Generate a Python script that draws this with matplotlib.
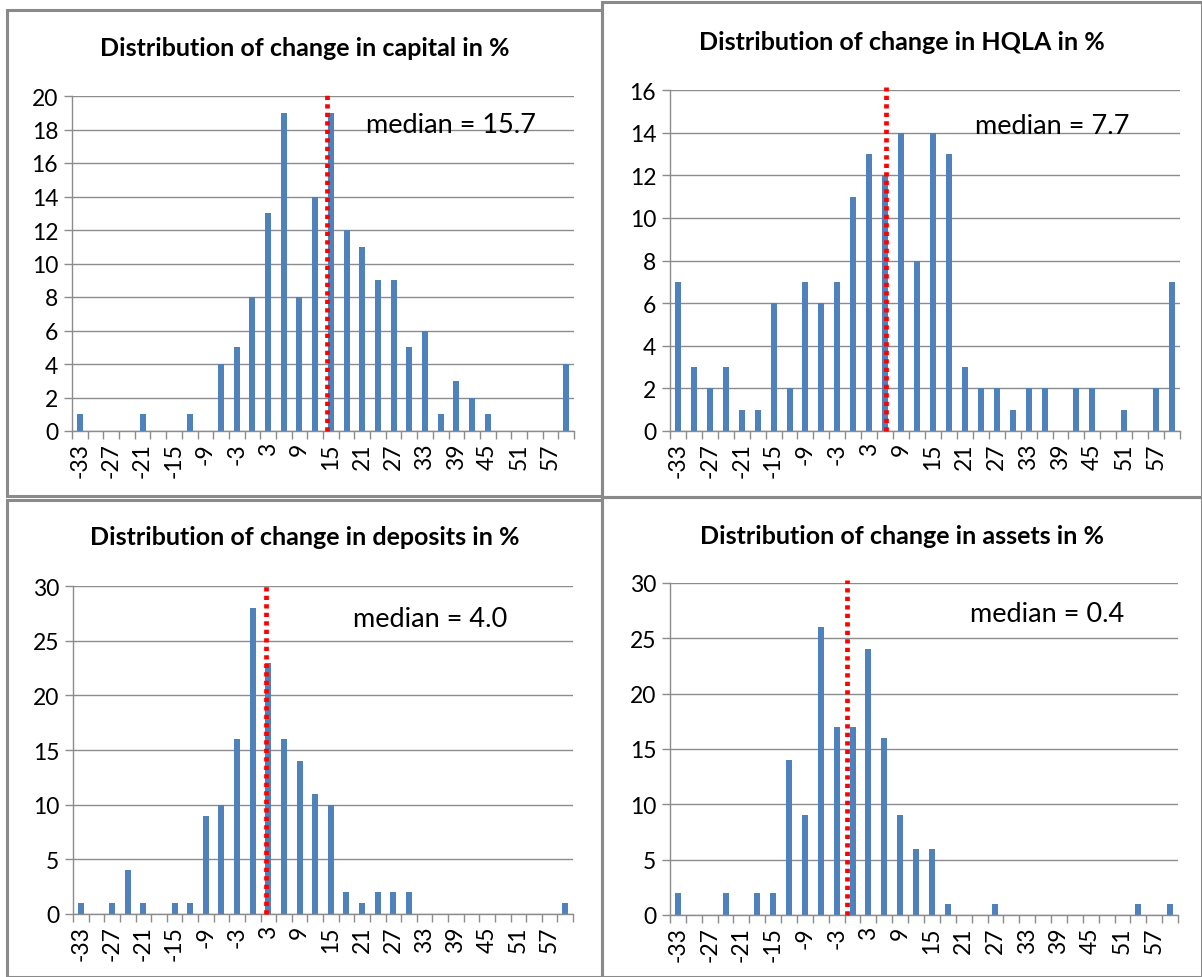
import matplotlib
matplotlib.use("Agg")
import matplotlib.pyplot as plt
from matplotlib.patches import Rectangle
import numpy as np

plt.rcParams['font.family'] = ['Lato', 'DejaVu Sans']

# Category labels (bins of 3 percentage points)
categories = list(range(-33, 61, 3))  # -33 ... 60 (32 bins)

capital = [1, 0, 0, 0, 1, 0, 0, 1, 0, 4, 5, 8, 13, 19, 8, 14,
           19, 12, 11, 9, 9, 5, 6, 1, 3, 2, 1, 0, 0, 0, 0, 4]
hqla = [7, 3, 2, 3, 1, 1, 6, 2, 7, 6, 7, 11, 13, 12, 14, 8,
        14, 13, 3, 2, 2, 1, 2, 2, 0, 2, 2, 0, 1, 0, 2, 7]
deposits = [1, 0, 1, 4, 1, 0, 1, 1, 9, 10, 16, 28, 23, 16, 14, 11,
            10, 2, 1, 2, 2, 2, 0, 0, 0, 0, 0, 0, 0, 0, 0, 1]
assets = [2, 0, 0, 2, 0, 2, 2, 14, 9, 26, 17, 17, 24, 16, 9, 6,
          6, 1, 0, 0, 1, 0, 0, 0, 0, 0, 0, 0, 0, 1, 0, 1]

titles = ["Distribution of change in capital in %",
          "Distribution of change in HQLA in %",
          "Distribution of change in deposits in %",
          "Distribution of change in assets in %"]
medians = [15.7, 7.7, 4.0, 0.4]
ymaxes = [20, 16, 30, 30]
ysteps = [2, 2, 5, 5]
series = [capital, hqla, deposits, assets]

W, H = 1202, 978
fig = plt.figure(figsize=(W / 100, H / 100), dpi=100)
fig.patch.set_facecolor('white')

axes_px = [(72, 574, 97, 432), (670, 1180, 91, 432),
           (73, 573, 587, 915), (670, 1178, 584, 916)]
frames_px = [(7, 11, 602, 497), (602, 3, 1202, 498),
             (7, 501, 602, 978), (602, 498, 1202, 978)]
title_y = [48, 43, 538, 536]
text_pos = [(0.585, 0.915), (0.598, 0.895), (0.56, 0.90), (0.59, 0.907)]

grid_col = '#8c8c8c'
bar_col = '#4F81BD'

for k in range(4):
    l, r, t, b = axes_px[k]
    ax = fig.add_axes([l / W, 1 - b / H, (r - l) / W, (b - t) / H])
    x = np.arange(len(categories))
    ax.bar(x, series[k], width=0.38, color=bar_col, zorder=2)
    ax.set_xlim(-0.5, len(categories) - 0.5)
    ax.set_ylim(0, ymaxes[k])
    ax.set_yticks(np.arange(0, ymaxes[k] + 1, ysteps[k]))
    ax.yaxis.grid(True, color=grid_col, lw=1.0, zorder=0)
    ax.set_axisbelow(True)
    ax.set_xticks(x[::2])
    ax.set_xticklabels([str(c) for c in categories[::2]], rotation=90, fontsize=16.5)
    ax.tick_params(axis='x', length=0, pad=8)
    ax.set_xticks(np.arange(-0.5, len(categories), 1.0), minor=True)
    ax.tick_params(axis='x', which='minor', length=6, color=grid_col, width=1)
    ax.tick_params(axis='y', length=6, color=grid_col, width=1, labelsize=16.5, pad=4)
    for s in ['top', 'right']:
        ax.spines[s].set_visible(False)
    for s in ['left', 'bottom']:
        ax.spines[s].set_color(grid_col)
        ax.spines[s].set_linewidth(1.0)
    # median line (bins labeled by lower edge: value -> category index)
    mpos = (medians[k] - categories[0] - 1.5) / 3.0
    ax.plot([mpos, mpos], [0, ymaxes[k] * 1.01], color='#FF0000', lw=3.4,
            linestyle=(0, (0.9, 0.9)), zorder=3, clip_on=False, solid_capstyle='butt')
    ax.text(text_pos[k][0], text_pos[k][1], "median = %.1f" % medians[k],
            transform=ax.transAxes, fontsize=19.5, va='center', ha='left')
    fx0, fy0, fx1, fy1 = frames_px[k]
    fig.text(((fx0 + fx1) / 2) / W, 1 - title_y[k] / H, titles[k],
             fontsize=18, fontweight='bold', ha='center', va='center')

for (x0, y0, x1, y1) in frames_px:
    fig.add_artist(Rectangle((x0 / W, 1 - y1 / H), (x1 - x0) / W, (y1 - y0) / H,
                             transform=fig.transFigure, fill=False,
                             edgecolor='#8a8a8a', lw=2.2))

fig.savefig('out.png', dpi=100)
